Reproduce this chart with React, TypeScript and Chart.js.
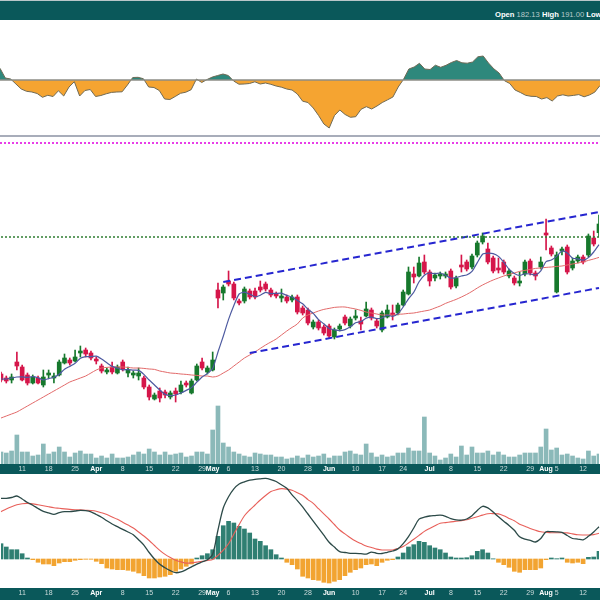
import React, { useEffect, useRef } from 'react';
import { Chart, registerables } from 'chart.js';

Chart.register(...registerables);

const TEAL = '#0a585a';
const FONT = "'Liberation Sans', Arial, Helvetica, sans-serif";
const UP = '#16782c';
const DOWN = '#d5164a';

// trading days (2024)
const dates = [
  '03-05','03-06','03-07','03-08','03-11','03-12','03-13','03-14','03-15','03-18','03-19','03-20','03-21','03-22','03-25','03-26','03-27','03-28',
  '04-01','04-02','04-03','04-04','04-05','04-08','04-09','04-10','04-11','04-12','04-15','04-16','04-17','04-18','04-19','04-22','04-23','04-24','04-25','04-26','04-29','04-30',
  '05-01','05-02','05-03','05-06','05-07','05-08','05-09','05-10','05-13','05-14','05-15','05-16','05-17','05-20','05-21','05-22','05-23','05-24','05-28','05-29','05-30','05-31',
  '06-03','06-04','06-05','06-06','06-07','06-10','06-11','06-12','06-13','06-14','06-17','06-18','06-20','06-21','06-24','06-25','06-26','06-27','06-28',
  '07-01','07-02','07-03','07-05','07-08','07-09','07-10','07-11','07-12','07-15','07-16','07-17','07-18','07-19','07-22','07-23','07-24','07-25','07-26','07-29','07-30','07-31',
  '08-01','08-02','08-05','08-06','08-07','08-08','08-09','08-12','08-13','08-14','08-15',
];

const tickDates = ['03-11','03-18','03-25','04-01','04-08','04-15','04-22','04-29','05-01','05-06','05-13','05-20','05-28','06-03','06-10','06-17','06-24','07-01','07-08','07-15','07-22','07-29','08-01','08-05','08-12'];
const tickTexts = ['11','18','25','Apr','8','15','22','29','May','6','13','20','28','Jun','10','17','24','Jul','8','15','22','29','Aug','5','12'];
const monthNames = ['Apr','May','Jun','Jul','Aug'];

const opens = [
  111.5,109.5,108.5,117.5,115,111,107,109.5,106,111,
  109.5,111,117,118.5,118,122,123.5,122,119,115.5,
  112.5,115,112,117.5,112,111,110.5,109.5,105,99,
  103,102.5,100,103,102.5,107,102,108.5,117.5,112.5,
  113.5,153.5,152,158,156.5,148,148,153,153,155,
  156.5,153.5,151.5,149.5,150,148.5,150,144.5,143.5,135,
  137.5,135,135.5,130,134,140,135.5,139.5,138,140.5,
  143.5,138,133.5,140,142,142,146,151.5,161.5,160.5,
  167.5,162.5,159.5,160.5,160.5,163,155.5,166,167.5,165,
  171,177.5,174,169.5,164.5,167.5,160.5,159.5,157,161.5,
  168,162,165,182,174.5,152.5,173,175,164.5,168,
  170,171,179.5,182.13,
];
const highs = [
  112.5,110.5,111.5,122.5,116,112,111,110.5,113.5,113.5,
  112,118.5,121.5,119.5,123.5,125.5,124.5,123,120,116.5,
  114.5,117.5,116,118.5,115,113,114.5,110.5,106,102,
  104.5,103.5,103,104.5,108,108,109,116.5,119.5,115.5,
  122.5,157,156,163,157.5,149,155,154,154.5,158,
  157.5,154.5,152.5,154,151,151,151,145.5,144.5,138.5,
  138.5,136,136.5,134.5,136.5,141,140,143.5,140,147.5,
  144.5,139,143,146,146,147,153.5,165,165,170,
  171,163.5,162,162.5,162.5,164,160.5,171,168.5,171.5,
  178,182,177,170.5,169.5,168.5,164,160.5,162.5,168.5,
  169,163,170,189,175.5,172.5,175,176,169.5,171,
  171,181.5,183,191,
];
const lows = [
  107.5,107,107,113.5,108,106,106.5,106.5,105,109.5,
  107,110.5,116.5,116,117.5,120,120,118.5,116.5,112,
  111.5,111.5,111.5,113,110,109.5,108.5,104,98.5,98.5,
  97.5,99.5,99,97.5,101.5,105,101.5,108,113.5,111.5,
  113,144.5,148.5,155.5,148.5,146,147,149,149,152.5,
  153,150,149.5,147.5,147,147.5,141.5,141,136,134,
  133.5,131,129.5,129,133,136,134.5,138.5,133.5,140,
  138.5,134.5,132.5,139.5,138.5,141,145.5,151,157,160,
  161.5,155.5,158,159,159.5,154,154.5,162.5,163,164,
  170,176.5,166.5,162,162,161.5,159.5,156,155.5,160.5,
  161,158.5,164,173.5,170.5,152,171,161.5,163.5,167,
  166.5,170,175.5,180,
];
const closes = [
  108.5,108,110,115.5,108.5,107,110,107,110,112,
  110.5,117.5,119.5,117,120,123,121.5,119.5,118,113,
  113.5,112.5,115,114,113.5,112,112,105,100,101,
  99.5,101,102,101.5,106,106,108,115.5,114.5,114.5,
  118.5,149.5,155,156.5,149.5,147,154,150,150,153.5,
  154,151,150.5,150.5,148,150,142.5,142,137,137.5,
  134.5,132,130.5,133.5,135.5,137,139,140.5,136.5,144,
  139.5,135.5,142,143.5,141,146,152.5,162.5,160,167,
  162.5,158,161,161.5,161.5,155,159.5,165,164,170.5,
  177,180.5,167.5,163,163.5,162.5,163,157,158,167.5,
  162,160.5,167.5,181,171.5,171,174,162.5,168,170,
  167.5,180.5,176.5,186.5,
];
const volumes = [
  2400,2200,2600,5800,2400,2400,1600,1800,4000,2000,
  2400,3400,2400,1400,2200,2600,2000,2000,1200,1600,
  1200,2000,1200,1200,1400,1800,2400,2000,3000,2400,
  1800,2400,1800,2000,2200,1400,1600,2400,2400,2000,
  6800,11600,4200,3400,2400,2000,1600,1400,2200,2000,
  1800,1800,1400,1400,1000,1200,1600,1200,1800,1400,
  1600,2000,1200,1600,1600,2400,2600,2000,1800,4000,
  2200,1400,1800,1400,1600,2200,2200,3200,2600,2600,
  9400,2200,1600,800,1200,2000,1400,3600,1800,3400,
  2200,2200,2600,1800,2400,1800,1400,1400,1800,2200,
  2200,2200,3400,7000,2800,3200,1800,2000,1600,1200,
  1000,2600,1600,2000,
];
const smaFast = [
  109,109,109.5,110,110.1,109.8,110.2,109.6,108.5,109.2,
  109.9,111.4,113.9,115.3,116.9,119.4,120.2,120.2,120.4,119,
  117.1,115.3,114.4,113.6,113.7,113.4,113.3,111.3,108.5,106,
  103.5,101.3,100.7,101,102,103.3,104.7,107.4,110,111.7,
  114.2,122.5,130.4,138.8,145.8,151.5,152.4,151.4,150.1,150.9,
  152.3,151.7,151.8,151.9,150.8,150,148.3,146.6,143.9,141.8,
  138.7,136.6,134.3,133.6,133.2,133.7,135.1,137.1,137.7,139.4,
  139.9,139.2,139.5,140.9,140.3,141.6,145,149.1,152.4,157.6,
  160.9,162,161.7,162,160.9,159.4,159.7,160.5,161,162.8,
  167.2,171.4,171.9,171.7,170.3,167.4,163.9,161.8,160.8,161.6,
  161.5,161,163.1,167.7,168.5,170.3,173,172,169.4,169.1,
  168.4,169.7,172.5,176.2,
];
const smaSlow = [
  89.5,90.5,91.5,92.5,94,95.5,97,98.5,100,101.5,
  103,104.5,106,107.5,108.5,109.5,110.5,112,113.5,114.5,
  114.8,115,115,115,114.8,114.5,114.5,114.3,114,113.8,
  113,112.5,112,111.8,111.5,111.3,111,110.8,110.5,110.5,
  110,110.5,112,113.5,115.5,117.5,119.5,121,122.5,124.3,
  126,127.5,129,131,133,134.8,136.5,139.5,141,142,
  143,143.8,144.3,144.8,145,145,144.5,144,143.3,142.5,
  142,141.5,141,141,141,141.3,141.5,141.8,142,142.5,
  143,143.5,144.5,145.5,146.8,147.8,148.8,150,151.3,152.8,
  154.5,156,157.3,158.5,159.5,160.5,161.3,162,162.8,163.3,
  163.8,164.3,164.5,164.8,165,165.3,165.5,166,166.5,167,
  167.5,168.3,169,169.8,
];
const topIndicator = [
  1.17,0.2,0.1,-0.4,-0.9,-1.13,-1.2,-1.35,-1.73,-1.53,
  -1.65,-1.08,-1.6,-0.7,-0.17,-1.6,-1.05,-0.95,-1.65,-1.55,
  -1.38,-1.24,-1.2,-1.18,-0.5,0.25,0.27,0.13,-0.7,-0.75,
  -1.05,-1.9,-1.95,-1.65,-1.33,-1.22,-0.97,0.1,-0.25,0.05,
  0.3,0.45,0.6,0.45,-0.1,-0.42,-0.4,-0.35,-0.18,-0.4,
  -0.3,-0.43,-0.6,-0.72,-0.9,-1.0,-1.4,-2.12,-2.25,-2.8,
  -3.55,-4.4,-4.8,-3.55,-3.0,-3.45,-3.73,-3.67,-2.93,-2.67,
  -2.9,-2.6,-2.25,-1.98,-1.7,-0.7,0.07,1.1,1.3,1.67,
  1.1,1.05,1.48,1.27,1.47,1.75,1.95,1.72,1.68,1.8,
  2.32,2.4,1.7,1.12,0.7,-0.07,-0.35,-1.0,-1.25,-1.53,
  -1.63,-1.65,-1.9,-1.76,-2.1,-1.6,-1.48,-1.6,-1.54,-1.46,
  -1.68,-1.5,-1.22,-0.55,
];
const macdLine = [
  6.07,6.07,6.15,6.3,6.0,5.65,5.38,5.05,4.77,4.61,
  4.47,4.63,4.73,4.73,4.8,4.87,4.83,4.72,4.45,4.17,
  3.82,3.5,3.23,2.96,2.7,2.43,1.93,1.39,0.65,0.0,
  -0.53,-0.88,-1.17,-1.37,-1.29,-1.06,-0.79,-0.51,-0.3,-0.07,
  0.48,2.9,5.1,6.23,7.02,7.5,7.72,7.88,7.97,8.02,
  8.06,7.94,7.75,7.42,7.07,6.42,5.84,5.21,4.5,3.79,
  3.09,2.38,1.68,1.19,0.74,0.65,0.57,0.57,0.53,0.49,
  0.69,0.57,0.55,0.67,0.8,1.01,1.54,2.24,3.1,3.99,
  4.18,4.3,4.34,4.38,4.27,4.04,3.91,3.88,4.0,4.33,
  4.86,5.27,5.11,4.69,4.22,3.78,3.36,2.87,2.22,1.98,
  1.87,1.7,2.05,2.73,2.73,2.72,2.66,2.35,2.05,1.99,
  1.92,2.27,2.71,3.23,
];
const signalLine = [
  4.73,5.0,5.23,5.42,5.53,5.56,5.51,5.42,5.32,5.22,
  5.13,5.07,5.01,4.96,4.93,4.91,4.88,4.85,4.78,4.62,
  4.44,4.21,3.97,3.68,3.39,3.1,2.7,2.3,1.85,1.35,
  0.87,0.46,0.14,-0.13,-0.29,-0.41,-0.38,-0.31,-0.24,-0.14,
  -0.04,0.37,0.88,1.52,2.5,3.44,4.32,4.9,5.4,5.9,
  6.35,6.74,6.92,7.04,6.99,6.87,6.63,6.38,5.94,5.57,
  5.03,4.51,4.0,3.45,2.9,2.51,2.12,1.79,1.55,1.3,
  1.15,0.99,0.9,0.9,0.9,1.06,1.24,1.6,1.97,2.36,
  2.76,3.06,3.33,3.58,3.64,3.71,3.77,3.84,3.92,4.08,
  4.23,4.39,4.53,4.54,4.51,4.32,4.06,3.82,3.48,3.28,
  3.06,2.87,2.72,2.67,2.63,2.63,2.63,2.61,2.51,2.42,
  2.4,2.4,2.44,2.57,
];
const macdHist = [
  1.53,1.2,0.93,0.93,0.53,0.1,-0.07,-0.33,-0.5,-0.5,
  -0.67,-0.4,-0.27,-0.27,-0.13,-0.07,-0.03,-0.03,-0.23,-0.47,
  -0.9,-1.0,-1.07,-1.07,-1.13,-1.23,-1.4,-1.67,-1.9,-1.9,
  -1.8,-1.73,-1.57,-1.23,-1.0,-0.73,-0.5,0.1,0.33,0.53,
  0.93,2.27,3.33,3.77,3.6,3.27,3.0,2.6,2.0,1.77,
  1.33,0.93,0.43,0.1,-0.33,-0.57,-1.0,-1.73,-1.9,-2.07,
  -2.13,-2.33,-2.4,-2.23,-2.07,-1.67,-1.33,-1.07,-0.9,-0.57,
  -0.5,-0.67,-0.33,-0.13,-0.07,0.2,0.6,1.2,1.43,1.77,
  1.67,1.33,1.1,0.93,0.6,0.2,0.1,0.1,0.13,0.33,
  0.77,0.93,0.6,0.02,-0.33,-0.57,-0.83,-1.23,-1.33,-1.07,
  -1.07,-1.07,-0.9,-0.07,0.1,0.03,0.1,-0.33,-0.4,-0.33,
  -0.47,0.17,0.2,0.77,
];

// trend lines: [startIndex, startPrice, endIndex, endPrice]
const channelUpper = [42, 157.5, 113, 192.5];
const channelLower = [47, 122, 113, 154.5];
const resistanceLevel = 180;

function tickLabel(i: number) {
  const k = tickDates.indexOf(dates[i]);
  return k >= 0 ? tickTexts[k] : '';
}

function makeX(height: number) {
  return {
    type: 'category',
    offset: false,
    grid: { display: false, drawTicks: false },
    border: { display: false },
    ticks: {
      autoSkip: false,
      maxRotation: 0,
      minRotation: 0,
      padding: 1,
      callback: (_v: any, i: number) => tickLabel(i),
      color: (ctx: any) => (monthNames.includes(ctx.tick && ctx.tick.label) ? '#ffffff' : '#cddcdc'),
      font: (ctx: any) => ({
        family: FONT,
        size: 7,
        weight: monthNames.includes(ctx.tick && ctx.tick.label) ? 'bold' : 'normal',
      }),
    },
    afterFit: (s: any) => {
      s.height = height;
    },
  };
}

const axisBand = {
  id: 'axisBand',
  beforeDraw(chart: any) {
    const { ctx, chartArea } = chart;
    ctx.save();
    ctx.fillStyle = TEAL;
    ctx.fillRect(0, chartArea.bottom, chart.width, chart.height - chartArea.bottom);
    ctx.restore();
  },
};

const zeroLine = {
  id: 'zeroLine',
  afterDatasetsDraw(chart: any) {
    const { ctx, chartArea } = chart;
    const y = chart.scales.y.getPixelForValue(0);
    ctx.save();
    ctx.strokeStyle = '#8c8c86';
    ctx.lineWidth = 1.5;
    ctx.beginPath();
    ctx.moveTo(chartArea.left, y);
    ctx.lineTo(chartArea.right, y);
    ctx.stroke();
    ctx.restore();
  },
};

const baseOptions = {
  responsive: false,
  maintainAspectRatio: false,
  animation: false,
  events: [],
  layout: { padding: 0 },
  plugins: { legend: { display: false }, tooltip: { enabled: false } },
};

export default function App() {
  const topRef = useRef<HTMLCanvasElement>(null);
  const mainRef = useRef<HTMLCanvasElement>(null);
  const macdRef = useRef<HTMLCanvasElement>(null);

  useEffect(() => {
    const charts: any[] = [];
    const candleColors = closes.map((c, i) => (c >= opens[i] ? UP : DOWN));

    charts.push(
      new Chart(topRef.current as any, {
        type: 'line',
        data: {
          labels: dates,
          datasets: [
            {
              data: topIndicator,
              borderColor: '#6f6a55',
              borderWidth: 1,
              pointRadius: 0,
              tension: 0,
              fill: { target: 'origin', above: '#2e887c', below: '#f5a431' },
            },
          ],
        },
        options: {
          ...baseOptions,
          scales: {
            x: { type: 'category', display: false, offset: false },
            y: { display: false, min: -5.5, max: 6 },
          },
        } as any,
        plugins: [zeroLine],
      })
    );

    charts.push(
      new Chart(mainRef.current as any, {
        type: 'bar',
        data: {
          labels: dates,
          datasets: [
            {
              type: 'line',
              data: [
                { x: dates[0], y: resistanceLevel },
                { x: dates[dates.length - 1], y: resistanceLevel },
              ],
              borderColor: '#2f7d32',
              borderWidth: 1.5,
              borderDash: [2, 2],
              pointRadius: 0,
              yAxisID: 'y',
              order: 1,
            },
            {
              type: 'line',
              data: [
                { x: dates[channelUpper[0]], y: channelUpper[1] },
                { x: dates[channelUpper[2]], y: channelUpper[3] },
              ],
              borderColor: '#2626d0',
              borderWidth: 2,
              borderDash: [7, 4],
              pointRadius: 0,
              yAxisID: 'y',
              order: 1,
            },
            {
              type: 'line',
              data: [
                { x: dates[channelLower[0]], y: channelLower[1] },
                { x: dates[channelLower[2]], y: channelLower[3] },
              ],
              borderColor: '#2626d0',
              borderWidth: 2,
              borderDash: [7, 4],
              pointRadius: 0,
              yAxisID: 'y',
              order: 1,
            },
            {
              type: 'line',
              data: smaFast,
              borderColor: '#4d5aa0',
              borderWidth: 1.2,
              pointRadius: 0,
              tension: 0.2,
              yAxisID: 'y',
              order: 2,
            },
            {
              type: 'line',
              data: smaSlow,
              borderColor: '#e26a6a',
              borderWidth: 1,
              pointRadius: 0,
              tension: 0.3,
              yAxisID: 'y',
              order: 3,
            },
            {
              type: 'bar',
              data: opens.map((o, i) => [o, closes[i]]),
              backgroundColor: candleColors,
              borderWidth: 0,
              barThickness: 4,
              grouped: false,
              yAxisID: 'y',
              order: 5,
            },
            {
              type: 'bar',
              data: lows.map((l, i) => [l, highs[i]]),
              backgroundColor: candleColors,
              borderWidth: 0,
              barThickness: 1,
              grouped: false,
              yAxisID: 'y',
              order: 6,
            },
            {
              type: 'bar',
              data: volumes,
              backgroundColor: '#8bb9b9',
              borderWidth: 0,
              barThickness: 4,
              grouped: false,
              yAxisID: 'yVol',
              order: 10,
            },
          ],
        },
        options: {
          ...baseOptions,
          scales: {
            x: makeX(10),
            y: { display: false, min: 66.5, max: 226.5 },
            yVol: { display: false, min: 0, max: 64000 },
          },
        } as any,
        plugins: [axisBand],
      })
    );

    charts.push(
      new Chart(macdRef.current as any, {
        type: 'bar',
        data: {
          labels: dates,
          datasets: [
            {
              type: 'line',
              data: macdLine,
              borderColor: '#2c4a48',
              borderWidth: 1.3,
              pointRadius: 0,
              tension: 0.3,
              order: 1,
            },
            {
              type: 'line',
              data: signalLine,
              borderColor: '#e8605a',
              borderWidth: 1.1,
              pointRadius: 0,
              tension: 0.3,
              order: 2,
            },
            {
              type: 'bar',
              data: macdHist,
              backgroundColor: macdHist.map((v) => (v >= 0 ? '#2f7f72' : '#f2a431')),
              borderWidth: 0,
              barThickness: 4,
              grouped: false,
              order: 3,
            },
          ],
        },
        options: {
          ...baseOptions,
          scales: {
            x: makeX(12),
            y: { display: false, min: -2.9, max: 8.5 },
          },
        } as any,
        plugins: [axisBand],
      })
    );

    return () => {
      charts.forEach((c) => c.destroy());
    };
  }, []);

  const last = opens.length - 1;

  return (
    <div
      style={{
        position: 'fixed',
        left: 0,
        top: 0,
        width: 600,
        height: 600,
        background: '#ffffff',
        overflow: 'hidden',
      }}
    >
      <div
        style={{
          position: 'absolute',
          left: 0,
          top: 0,
          width: 600,
          height: 20,
          background: TEAL,
          borderTop: '1px solid #b9c6c9',
          boxSizing: 'border-box',
        }}
      />
      <div
        style={{
          position: 'absolute',
          left: 495,
          top: 11,
          fontFamily: FONT,
          fontSize: 7.6,
          lineHeight: '8px',
          whiteSpace: 'nowrap',
          color: '#b9caca',
        }}
      >
        <b style={{ color: '#ffffff' }}>Open</b> {opens[last].toFixed(2)}{' '}
        <b style={{ color: '#ffffff' }}>High</b> {highs[last].toFixed(2)}{' '}
        <b style={{ color: '#ffffff' }}>Low</b>
      </div>
      <canvas
        ref={topRef}
        width={600}
        height={115}
        style={{ position: 'absolute', left: 0, top: 20 }}
      />
      <div
        style={{
          position: 'absolute',
          left: 0,
          top: 135,
          width: 600,
          height: 2,
          background: '#a8adba',
        }}
      />
      <div
        style={{
          position: 'absolute',
          left: 0,
          top: 142,
          width: 600,
          height: 2,
          background: 'repeating-linear-gradient(90deg, #e83ee8 0px, #e83ee8 2px, transparent 2px, transparent 4px)',
        }}
      />
      <canvas
        ref={mainRef}
        width={600}
        height={330}
        style={{ position: 'absolute', left: 0, top: 144 }}
      />
      <canvas
        ref={macdRef}
        width={600}
        height={126}
        style={{ position: 'absolute', left: 0, top: 474 }}
      />
    </div>
  );
}
